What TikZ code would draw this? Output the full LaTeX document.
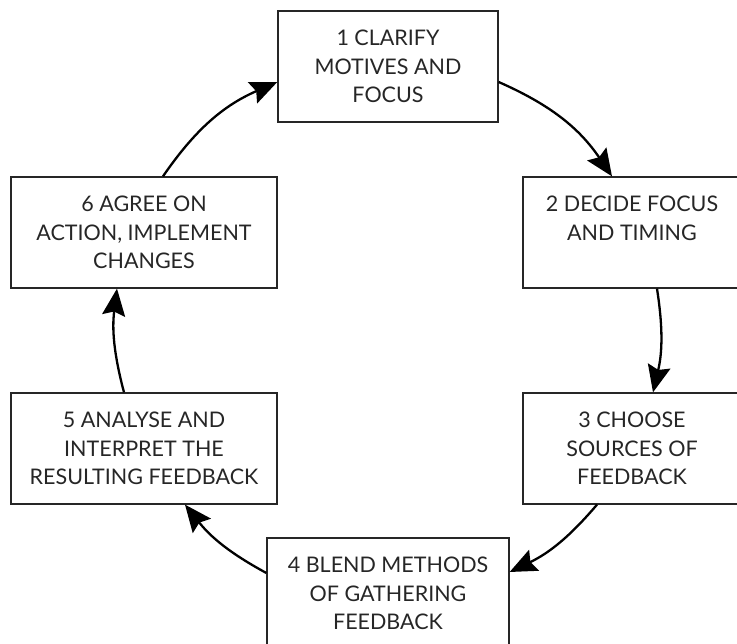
\documentclass[tikz,border=0pt]{standalone}
\usepackage{fontspec}
\setmainfont{Lato}
\usetikzlibrary{arrows.meta}
\begin{document}
\begin{tikzpicture}[x=1pt, y=1pt,
    stage/.style={draw=black!85, line width=1.3pt, align=center, text=black!85,
      font=\fontsize{21.5}{28.5}\selectfont, minimum height=111pt, inner sep=0pt},
    cyclearrow/.style={line width=2.3pt, -{Stealth[length=27pt, width=23pt, inset=4pt]}, bend left=#1}]
    \clip (0, 0) rectangle (737, 644);
    \node[stage, minimum width=220pt] (clarify) at (388, 577.5) {1 CLARIFY\\MOTIVES AND\\FOCUS};
    \node[stage, minimum width=218pt] (decide) at (632, 411.5) {2 DECIDE FOCUS\\AND TIMING\\\mbox{}};
    \node[stage, minimum width=218pt] (choose) at (632, 195.5) {3 CHOOSE\\SOURCES OF\\FEEDBACK};
    \node[stage, minimum width=242pt] (blend) at (388, 50.5) {4 BLEND METHODS\\OF GATHERING\\FEEDBACK};
    \node[stage, minimum width=266pt] (analyse) at (144, 195.5) {5 ANALYSE AND\\INTERPRET THE\\RESULTING FEEDBACK};
    \node[stage, minimum width=266pt] (agree) at (144, 411.5) {6 AGREE ON\\ACTION, IMPLEMENT\\CHANGES};
    \draw[cyclearrow=16] ([yshift=-15.5pt]clarify.east) to ([xshift=-20pt]decide.north);
    \draw[cyclearrow=11] ([xshift=25pt]decide.south) to ([xshift=21pt]choose.north);
    \draw[cyclearrow=12] ([xshift=-35pt]choose.south) to ([yshift=21.5pt]blend.east);
    \draw[cyclearrow=11.5] ([yshift=20.5pt]blend.west) to ([xshift=41pt]analyse.south);
    \draw[cyclearrow=11] ([xshift=-20pt]analyse.north) to ([xshift=-27pt]agree.south);
    \draw[cyclearrow=16] ([xshift=19pt]agree.north) to ([yshift=-15.5pt]clarify.west);
\end{tikzpicture}
\end{document}
